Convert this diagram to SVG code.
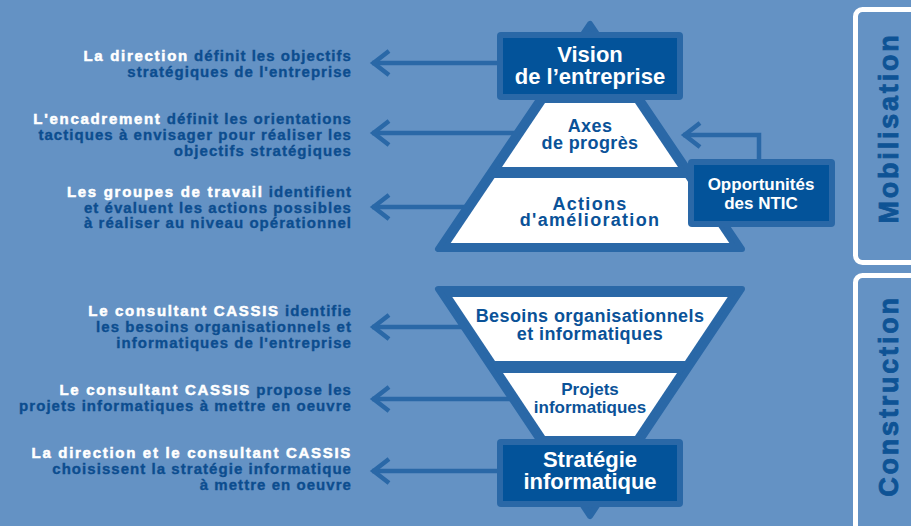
<svg xmlns="http://www.w3.org/2000/svg" width="911" height="526" viewBox="0 0 911 526">
<defs>
<style>
.bg{fill:#6492c4}
.mid{fill:#2a68a7;stroke:#2a68a7;stroke-width:6;stroke-linejoin:round}
.wh{fill:#ffffff}
.boxo{fill:#2a68a7}
.boxi{fill:#03539a}
.t{font-family:"Liberation Sans",Arial,sans-serif;font-weight:bold;text-anchor:middle}
.tw{fill:#ffffff;font-size:22px}
.tb{fill:#0a5298;font-size:18px}
.to{fill:#ffffff;font-size:17px}
.lt{font-family:"Liberation Sans",Arial,sans-serif;font-weight:bold;font-size:15px;text-anchor:end;fill:#0c4d8f;stroke:#0c4d8f;stroke-width:0.35px;letter-spacing:1.05px}
.w{fill:#ffffff;stroke:#ffffff;stroke-width:0.5px;letter-spacing:1.7px}
.conn{fill:none;stroke:#2a68a7;stroke-width:4.5}
.panel{fill:none;stroke:#ffffff;stroke-width:5}
.pl{font-family:"Liberation Sans",Arial,sans-serif;font-weight:bold;font-size:27px;fill:#0e5395;stroke:#0e5395;stroke-width:0.8px;text-anchor:middle;letter-spacing:2.8px}
</style>
<marker id="chev" markerUnits="userSpaceOnUse" markerWidth="40" markerHeight="40" viewBox="-8 -20 40 40" refX="0" refY="0" orient="auto" overflow="visible">
<path d="M17,-12 L1.5,0 L17,12" fill="none" stroke="#2a68a7" stroke-width="4.5"/>
</marker>
</defs>
<rect class="bg" x="0" y="0" width="911" height="526"/>

<g id="connectors">
<line class="conn" x1="372" y1="63" x2="500" y2="63" marker-start="url(#chev)"/>
<line class="conn" x1="372" y1="133" x2="520" y2="133" marker-start="url(#chev)"/>
<line class="conn" x1="372" y1="207" x2="470" y2="207" marker-start="url(#chev)"/>
<line class="conn" x1="372" y1="327" x2="467" y2="327" marker-start="url(#chev)"/>
<line class="conn" x1="372" y1="399" x2="514" y2="399" marker-start="url(#chev)"/>
<line class="conn" x1="372" y1="471" x2="500" y2="471" marker-start="url(#chev)"/>
<path class="conn" d="M683,135 H759 V162" marker-start="url(#chev)"/>
</g>

<g id="pyramid-top">
<polygon class="mid" points="590,24 438,249 742,249"/>
</g>
<g id="pyramid-bottom">
<polygon class="mid" points="438,289 742,289 590,516"/>
</g>

<g id="node-vision">
<rect class="boxo" x="497" y="32" width="186" height="68" rx="4"/>
<rect class="boxi" x="503" y="38" width="174" height="56"/>
<text class="t tw" x="590" y="62">Vision</text>
<text class="t tw" x="590" y="84">de l’entreprise</text>
</g>

<g id="node-axes">
<polygon class="wh" points="545,103 635,103 678,167 502,167"/>
<text class="t tb" x="590" y="132" style="letter-spacing:0.4px">Axes</text>
<text class="t tb" x="590" y="149" style="letter-spacing:0.4px">de progrès</text>
</g>

<g id="node-actions">
<polygon class="wh" points="494.5,178 685.5,178 729.3,243 450.7,243"/>
<text class="t tb" x="590" y="210" style="letter-spacing:1.3px">Actions</text>
<text class="t tb" x="590" y="226" style="letter-spacing:1.3px">d'amélioration</text>
</g>

<g id="node-opportunites">
<rect class="boxo" x="688" y="159" width="147" height="68" rx="4"/>
<rect class="boxi" x="694" y="165" width="135" height="56"/>
<text class="t to" x="761" y="190">Opportunités</text>
<text class="t to" x="761" y="209">des NTIC</text>
</g>

<g id="node-besoins">
<polygon class="wh" points="452.3,297 727.7,297 685,361 495,361"/>
<text class="t tb" x="590" y="322" style="letter-spacing:0.4px">Besoins organisationnels</text>
<text class="t tb" x="590" y="340" style="letter-spacing:0.4px">et informatiques</text>
</g>

<g id="node-projets">
<polygon class="wh" points="503,373 677,373 635,436 545,436"/>
<text class="t tb" x="590" y="395" style="font-size:17px">Projets</text>
<text class="t tb" x="590" y="413" style="font-size:17px">informatiques</text>
</g>

<g id="node-strategie">
<rect class="boxo" x="497" y="439" width="186" height="68" rx="4"/>
<rect class="boxi" x="503" y="445" width="174" height="56"/>
<text class="t tw" x="590" y="467">Stratégie</text>
<text class="t tw" x="590" y="489">informatique</text>
</g>

<g id="label-direction">
<text class="lt" x="352" y="61"><tspan class="w">La direction</tspan> définit les objectifs</text>
<text class="lt" x="352" y="77">stratégiques de l'entreprise</text>
</g>
<g id="label-encadrement">
<text class="lt" x="352" y="124"><tspan class="w">L'encadrement</tspan> définit les orientations</text>
<text class="lt" x="352" y="140">tactiques à envisager pour réaliser les</text>
<text class="lt" x="352" y="156">objectifs stratégiques</text>
</g>
<g id="label-groupes">
<text class="lt" x="352" y="197"><tspan class="w">Les groupes de travail</tspan> identifient</text>
<text class="lt" x="352" y="213">et évaluent les actions possibles</text>
<text class="lt" x="352" y="228">à réaliser au niveau opérationnel</text>
</g>
<g id="label-besoins">
<text class="lt" x="352" y="316"><tspan class="w">Le consultant CASSIS</tspan> identifie</text>
<text class="lt" x="352" y="332">les besoins organisationnels et</text>
<text class="lt" x="352" y="348">informatiques de l'entreprise</text>
</g>
<g id="label-projets">
<text class="lt" x="352" y="395"><tspan class="w">Le consultant CASSIS</tspan> propose les</text>
<text class="lt" x="352" y="411">projets informatiques à mettre en oeuvre</text>
</g>
<g id="label-strategie">
<text class="lt" x="352" y="458"><tspan class="w">La direction et le consultant CASSIS</tspan></text>
<text class="lt" x="352" y="474">choisissent la stratégie informatique</text>
<text class="lt" x="352" y="490">à mettre en oeuvre</text>
</g>

<g id="panel-mobilisation">
<rect class="panel" x="855.5" y="9.5" width="80" height="253" rx="7"/>
<text class="pl" transform="translate(898,128) rotate(-90)">Mobilisation</text>
</g>
<g id="panel-construction">
<rect class="panel" x="855.5" y="275.5" width="80" height="300" rx="7"/>
<text class="pl" transform="translate(898,396) rotate(-90)">Construction</text>
</g>
</svg>
